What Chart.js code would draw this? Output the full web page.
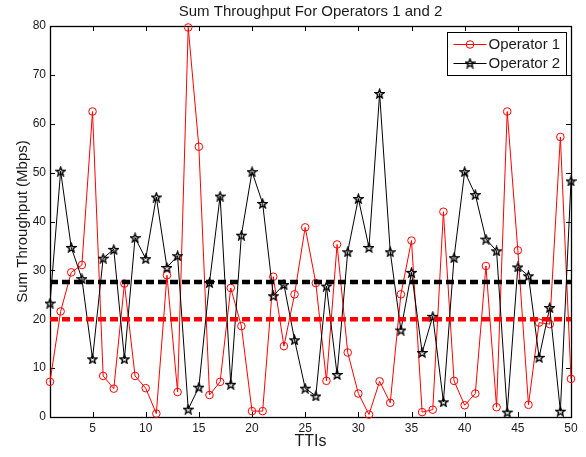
<!DOCTYPE html>
<html>
<head>
<meta charset="utf-8">
<script src="https://cdn.jsdelivr.net/npm/chart.js@4.4.0/dist/chart.umd.min.js"></script>
<style>
    html, body { margin: 0; padding: 0; background: #fff; }
    #wrap { width: 586px; height: 457px; }
</style>
</head>
<body>
<div id="wrap"><canvas id="chart"></canvas></div>
<script>
// TTI index (x) and throughput per operator (Mbps)
var ttis = [1, 2, 3, 4, 5, 6, 7, 8, 9, 10, 11, 12, 13, 14, 15, 16, 17, 18, 19, 20,
    21, 22, 23, 24, 25, 26, 27, 28, 29, 30, 31, 32, 33, 34, 35, 36, 37, 38, 39, 40,
    41, 42, 43, 44, 45, 46, 47, 48, 49, 50]
var operator1 = [7.2, 21.6, 29.6, 31.1, 62.5, 8.4, 5.8, 27.3, 8.4, 5.9,
    0.7, 29.0, 5.1, 79.7, 55.3, 4.5, 7.2, 26.4, 18.6, 1.2,
    1.2, 28.7, 14.5, 25.1, 38.8, 27.4, 7.4, 35.3, 13.2, 4.8,
    0.5, 7.3, 2.9, 25.1, 36.1, 1.0, 1.5, 42.0, 7.4, 2.4,
    4.8, 30.9, 2.0, 62.5, 34.1, 2.5, 19.3, 19.0, 57.3, 7.8]
var operator2 = [23.3, 50.3, 34.7, 28.3, 11.9, 32.5, 34.3, 11.9, 36.7, 32.4,
    45.0, 30.6, 33.0, 1.6, 6.1, 27.5, 45.2, 6.7, 37.2, 50.2,
    43.7, 24.8, 27.1, 15.8, 5.9, 4.3, 26.8, 8.7, 33.8, 44.7,
    34.7, 66.2, 33.8, 17.8, 29.6, 13.2, 20.6, 3.1, 32.6, 50.2,
    45.5, 36.4, 34.0, 1.0, 30.7, 28.9, 12.2, 22.4, 1.2, 48.3]
// mean levels (dashed lines)
var meanOp1 = 20.0
var meanOp2 = 27.6
var seriesNames = ["Operator 1", "Operator 2"]
var titleText = "Sum Throughput For Operators 1 and 2"
var xTicks = [5, 10, 15, 20, 25, 30, 35, 40, 45, 50]
var yTicks = [0, 10, 20, 30, 40, 50, 60, 70, 80]

var FONT = "'Liberation Sans', Arial, Helvetica, sans-serif"
var TEXT = "#1a1a1a"
var RED = "#ff0000"

function toPoints(values) {
    return values.map(function (v, i) { return { x: ttis[i], y: v } })
}
function meanPoints(m) {
    return [{ x: ttis[0], y: m }, { x: ttis[ttis.length - 1], y: m }]
}

// matlab like pentagram marker
function makeStar(size) {
    var c = document.createElement("canvas")
    c.width = size
    c.height = size
    var g = c.getContext("2d")
    var cx = size / 2, cy = size / 2 + 0.6
    var ro = size / 2 - 0.9, ri = ro * 0.42
    g.beginPath()
    for (var k = 0; k < 10; k++) {
        var r = k % 2 == 0 ? ro : ri
        var a = -Math.PI / 2 + k * Math.PI / 5
        var px = cx + r * Math.cos(a), py = cy + r * Math.sin(a)
        if (k == 0) g.moveTo(px, py)
        else g.lineTo(px, py)
    }
    g.closePath()
    g.strokeStyle = "#000"
    g.lineWidth = 1.4
    g.lineJoin = "miter"
    g.stroke()
    return c
}
var starImg = makeStar(11)

// box, inward ticks, title and legend like the matlab figure
var axesBox = {
    id: "axesBox",
    beforeDatasetsDraw: function (chart) {
        var ctx = chart.ctx
        var ca = chart.chartArea
        var xs = chart.scales.x, ys = chart.scales.y
        ctx.save()
        ctx.strokeStyle = "#000"
        ctx.lineWidth = 1
        ctx.beginPath()
        xTicks.forEach(function (v) {
            var px = Math.round(xs.getPixelForValue(v)) + 0.5
            ctx.moveTo(px, ca.bottom)
            ctx.lineTo(px, ca.bottom - 5)
            ctx.moveTo(px, ca.top)
            ctx.lineTo(px, ca.top + 5)
        })
        yTicks.forEach(function (v) {
            var py = Math.round(ys.getPixelForValue(v)) + 0.5
            ctx.moveTo(ca.left, py)
            ctx.lineTo(ca.left + 5, py)
            ctx.moveTo(ca.right, py)
            ctx.lineTo(ca.right - 5, py)
        })
        ctx.stroke()
        ctx.lineWidth = 1.3
        ctx.strokeRect(Math.round(ca.left) + 0.5, Math.round(ca.top) + 0.5,
            Math.round(ca.right - ca.left), Math.round(ca.bottom - ca.top))
        // title centred over the axes
        ctx.fillStyle = TEXT
        ctx.font = "15px " + FONT
        ctx.textAlign = "center"
        ctx.textBaseline = "alphabetic"
        ctx.fillText(titleText, (ca.left + ca.right) / 2, ca.top - 10.5)
        ctx.restore()
    },
    afterDraw: function (chart) {
        var ctx = chart.ctx
        var ca = chart.chartArea
        var bw = 119, bh = 43
        var bx = Math.round(ca.right - bw - 5) + 0.5
        var by = Math.round(ca.top + 6) + 0.5
        ctx.save()
        ctx.fillStyle = "#fff"
        ctx.fillRect(bx, by, bw, bh)
        ctx.strokeStyle = "#000"
        ctx.lineWidth = 1
        ctx.strokeRect(bx, by, bw, bh)
        ctx.font = "15px " + FONT
        ctx.textBaseline = "middle"
        seriesNames.forEach(function (name, i) {
            var ry = by + 12 + i * 19
            ctx.strokeStyle = i == 0 ? RED : "#000"
            ctx.beginPath()
            ctx.moveTo(bx + 6, ry)
            ctx.lineTo(bx + 39, ry)
            ctx.stroke()
            if (i == 0) {
                ctx.beginPath()
                ctx.arc(bx + 22.5, ry, 3.8, 0, Math.PI * 2)
                ctx.stroke()
            } else {
                ctx.drawImage(starImg, bx + 22.5 - 5.5, ry - 6)
            }
            ctx.fillStyle = TEXT
            ctx.fillText(name, bx + 41, ry + 0.5)
        })
        ctx.restore()
    }
}

var ctx = document.getElementById("chart")
var CHART = new Chart(ctx, {
    type: "line",
    data: {
        datasets: [
            {
                label: seriesNames[0],
                data: toPoints(operator1),
                borderColor: RED,
                borderWidth: 1,
                pointStyle: "circle",
                pointRadius: 3.8,
                pointBorderWidth: 1,
                pointBorderColor: RED,
                pointBackgroundColor: "rgba(0,0,0,0)",
                clip: false,
                order: 3
            },
            {
                label: seriesNames[1],
                data: toPoints(operator2),
                borderColor: "#000",
                borderWidth: 1,
                pointStyle: starImg,
                pointRadius: 5,
                clip: false,
                order: 2
            },
            {
                label: "mean 1",
                data: meanPoints(meanOp1),
                borderColor: RED,
                borderWidth: 4.5,
                borderDash: [8, 4],
                pointRadius: 0,
                order: 1
            },
            {
                label: "mean 2",
                data: meanPoints(meanOp2),
                borderColor: "#000",
                borderWidth: 4.5,
                borderDash: [8, 4],
                pointRadius: 0,
                order: 0
            }
        ]
    },
    options: {
        responsive: true,
        maintainAspectRatio: false,
        animation: false,
        devicePixelRatio: 1,
        layout: { padding: { left: 0, right: 15, top: 26, bottom: 0 } },
        elements: { line: { tension: 0 } },
        plugins: {
            legend: { display: false },
            tooltip: { enabled: false },
            title: { display: false }
        },
        scales: {
            x: {
                type: "linear",
                min: 1,
                max: 50,
                afterBuildTicks: function (s) {
                    s.ticks = xTicks.map(function (v) { return { value: v } })
                },
                afterFit: function (s) { s.height = 40 },
                grid: { display: false, drawTicks: false },
                border: { display: false },
                ticks: {
                    color: TEXT,
                    font: { family: FONT, size: 12 },
                    padding: 4,
                    maxRotation: 0,
                    autoSkip: false
                },
                title: {
                    display: true,
                    text: "TTIs",
                    color: TEXT,
                    font: { family: FONT, size: 16 },
                    padding: { top: 0, bottom: 6 }
                }
            },
            y: {
                min: 0,
                max: 80,
                afterBuildTicks: function (s) {
                    s.ticks = yTicks.map(function (v) { return { value: v } })
                },
                afterFit: function (s) { s.width = 50 },
                grid: { display: false, drawTicks: false },
                border: { display: false },
                ticks: {
                    color: TEXT,
                    font: { family: FONT, size: 12 },
                    padding: 4
                },
                title: {
                    display: true,
                    text: "Sum Throughput (Mbps)",
                    color: TEXT,
                    font: { family: FONT, size: 15 },
                    padding: { top: 14, bottom: 0 }
                }
            }
        }
    },
    plugins: [axesBox]
})
</script>
</body>
</html>
